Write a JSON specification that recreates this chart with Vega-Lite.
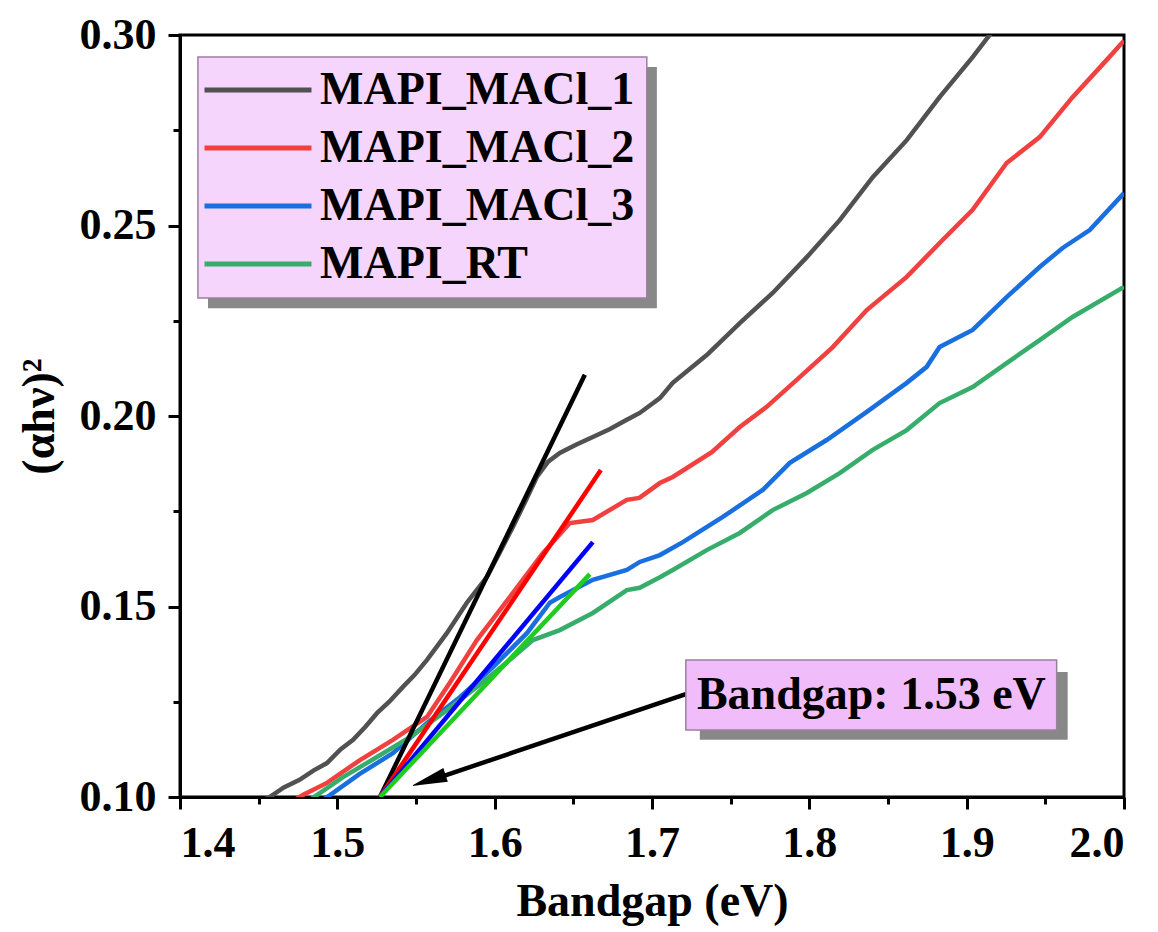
{
  "$schema": "https://vega.github.io/schema/vega-lite/v6.json",
  "width": 944,
  "height": 762,
  "autosize": {"type": "none"},
  "padding": {"left": 180, "top": 35, "right": 34, "bottom": 135},
  "background": "white",
  "config": {
    "view": {"stroke": "black", "strokeWidth": 3},
    "axis": {"grid": false, "domainColor": "black", "tickColor": "black", "labelColor": "black", "titleColor": "black", "labelFont": "Liberation Serif", "titleFont": "Liberation Serif", "labelFontWeight": "bold", "titleFontWeight": "bold"}
  },
  "datasets": {
    "curves": [
      {"series": "MAPI_MACl_1", "x": 1.450, "y": 0.0985},
      {"series": "MAPI_MACl_1", "x": 1.457, "y": 0.1000},
      {"series": "MAPI_MACl_1", "x": 1.466, "y": 0.1025},
      {"series": "MAPI_MACl_1", "x": 1.476, "y": 0.1045},
      {"series": "MAPI_MACl_1", "x": 1.485, "y": 0.1070},
      {"series": "MAPI_MACl_1", "x": 1.4934, "y": 0.1089},
      {"series": "MAPI_MACl_1", "x": 1.502, "y": 0.1125},
      {"series": "MAPI_MACl_1", "x": 1.510, "y": 0.1150},
      {"series": "MAPI_MACl_1", "x": 1.518, "y": 0.1185},
      {"series": "MAPI_MACl_1", "x": 1.5252, "y": 0.1220},
      {"series": "MAPI_MACl_1", "x": 1.533, "y": 0.1250},
      {"series": "MAPI_MACl_1", "x": 1.5417, "y": 0.1289},
      {"series": "MAPI_MACl_1", "x": 1.549, "y": 0.1320},
      {"series": "MAPI_MACl_1", "x": 1.557, "y": 0.1360},
      {"series": "MAPI_MACl_1", "x": 1.5696, "y": 0.1430},
      {"series": "MAPI_MACl_1", "x": 1.5823, "y": 0.1510},
      {"series": "MAPI_MACl_1", "x": 1.595, "y": 0.1577},
      {"series": "MAPI_MACl_1", "x": 1.603, "y": 0.1640},
      {"series": "MAPI_MACl_1", "x": 1.6116, "y": 0.1709},
      {"series": "MAPI_MACl_1", "x": 1.620, "y": 0.1780},
      {"series": "MAPI_MACl_1", "x": 1.6268, "y": 0.1840},
      {"series": "MAPI_MACl_1", "x": 1.634, "y": 0.1880},
      {"series": "MAPI_MACl_1", "x": 1.6414, "y": 0.1903},
      {"series": "MAPI_MACl_1", "x": 1.652, "y": 0.1925},
      {"series": "MAPI_MACl_1", "x": 1.6624, "y": 0.1945},
      {"series": "MAPI_MACl_1", "x": 1.673, "y": 0.1965},
      {"series": "MAPI_MACl_1", "x": 1.684, "y": 0.1990},
      {"series": "MAPI_MACl_1", "x": 1.6922, "y": 0.2008},
      {"series": "MAPI_MACl_1", "x": 1.705, "y": 0.2047},
      {"series": "MAPI_MACl_1", "x": 1.7132, "y": 0.2087},
      {"series": "MAPI_MACl_1", "x": 1.7348, "y": 0.2160},
      {"series": "MAPI_MACl_1", "x": 1.7558, "y": 0.2244},
      {"series": "MAPI_MACl_1", "x": 1.7767, "y": 0.2323},
      {"series": "MAPI_MACl_1", "x": 1.7984, "y": 0.2417},
      {"series": "MAPI_MACl_1", "x": 1.8193, "y": 0.2514},
      {"series": "MAPI_MACl_1", "x": 1.8403, "y": 0.2627},
      {"series": "MAPI_MACl_1", "x": 1.8619, "y": 0.2724},
      {"series": "MAPI_MACl_1", "x": 1.8828, "y": 0.2837},
      {"series": "MAPI_MACl_1", "x": 1.9038, "y": 0.2942},
      {"series": "MAPI_MACl_1", "x": 1.9146, "y": 0.3000},
      {"series": "MAPI_MACl_1", "x": 1.920, "y": 0.3030},
      {"series": "MAPI_MACl_2", "x": 1.470, "y": 0.0985},
      {"series": "MAPI_MACl_2", "x": 1.478, "y": 0.1005},
      {"series": "MAPI_MACl_2", "x": 1.4934, "y": 0.1037},
      {"series": "MAPI_MACl_2", "x": 1.5144, "y": 0.1097},
      {"series": "MAPI_MACl_2", "x": 1.5353, "y": 0.1150},
      {"series": "MAPI_MACl_2", "x": 1.557, "y": 0.1210},
      {"series": "MAPI_MACl_2", "x": 1.5715, "y": 0.1300},
      {"series": "MAPI_MACl_2", "x": 1.5887, "y": 0.1412},
      {"series": "MAPI_MACl_2", "x": 1.6097, "y": 0.1525},
      {"series": "MAPI_MACl_2", "x": 1.6306, "y": 0.1640},
      {"series": "MAPI_MACl_2", "x": 1.6478, "y": 0.1719},
      {"series": "MAPI_MACl_2", "x": 1.6624, "y": 0.1727},
      {"series": "MAPI_MACl_2", "x": 1.684, "y": 0.1780},
      {"series": "MAPI_MACl_2", "x": 1.692, "y": 0.1785},
      {"series": "MAPI_MACl_2", "x": 1.705, "y": 0.1824},
      {"series": "MAPI_MACl_2", "x": 1.7132, "y": 0.1840},
      {"series": "MAPI_MACl_2", "x": 1.738, "y": 0.1905},
      {"series": "MAPI_MACl_2", "x": 1.7558, "y": 0.1971},
      {"series": "MAPI_MACl_2", "x": 1.7729, "y": 0.2024},
      {"series": "MAPI_MACl_2", "x": 1.7939, "y": 0.2102},
      {"series": "MAPI_MACl_2", "x": 1.8149, "y": 0.2181},
      {"series": "MAPI_MACl_2", "x": 1.8365, "y": 0.2278},
      {"series": "MAPI_MACl_2", "x": 1.8619, "y": 0.2365},
      {"series": "MAPI_MACl_2", "x": 1.8828, "y": 0.2454},
      {"series": "MAPI_MACl_2", "x": 1.9038, "y": 0.2541},
      {"series": "MAPI_MACl_2", "x": 1.9254, "y": 0.2664},
      {"series": "MAPI_MACl_2", "x": 1.9464, "y": 0.2732},
      {"series": "MAPI_MACl_2", "x": 1.9673, "y": 0.2837},
      {"series": "MAPI_MACl_2", "x": 1.9889, "y": 0.2934},
      {"series": "MAPI_MACl_2", "x": 2.000, "y": 0.2985},
      {"series": "MAPI_MACl_3", "x": 1.488, "y": 0.0985},
      {"series": "MAPI_MACl_3", "x": 1.4953, "y": 0.1005},
      {"series": "MAPI_MACl_3", "x": 1.514, "y": 0.1060},
      {"series": "MAPI_MACl_3", "x": 1.5353, "y": 0.1115},
      {"series": "MAPI_MACl_3", "x": 1.557, "y": 0.1194},
      {"series": "MAPI_MACl_3", "x": 1.5779, "y": 0.1262},
      {"series": "MAPI_MACl_3", "x": 1.5989, "y": 0.1341},
      {"series": "MAPI_MACl_3", "x": 1.6205, "y": 0.1430},
      {"series": "MAPI_MACl_3", "x": 1.6351, "y": 0.1510},
      {"series": "MAPI_MACl_3", "x": 1.6414, "y": 0.1525},
      {"series": "MAPI_MACl_3", "x": 1.6624, "y": 0.1570},
      {"series": "MAPI_MACl_3", "x": 1.684, "y": 0.1596},
      {"series": "MAPI_MACl_3", "x": 1.6922, "y": 0.1617},
      {"series": "MAPI_MACl_3", "x": 1.705, "y": 0.1635},
      {"series": "MAPI_MACl_3", "x": 1.7196, "y": 0.1669},
      {"series": "MAPI_MACl_3", "x": 1.745, "y": 0.1735},
      {"series": "MAPI_MACl_3", "x": 1.7704, "y": 0.1806},
      {"series": "MAPI_MACl_3", "x": 1.7876, "y": 0.1877},
      {"series": "MAPI_MACl_3", "x": 1.811, "y": 0.1937},
      {"series": "MAPI_MACl_3", "x": 1.8365, "y": 0.2011},
      {"series": "MAPI_MACl_3", "x": 1.8619, "y": 0.2087},
      {"series": "MAPI_MACl_3", "x": 1.8746, "y": 0.2129},
      {"series": "MAPI_MACl_3", "x": 1.8828, "y": 0.2181},
      {"series": "MAPI_MACl_3", "x": 1.9038, "y": 0.2226},
      {"series": "MAPI_MACl_3", "x": 1.9254, "y": 0.2312},
      {"series": "MAPI_MACl_3", "x": 1.9464, "y": 0.2391},
      {"series": "MAPI_MACl_3", "x": 1.961, "y": 0.2441},
      {"series": "MAPI_MACl_3", "x": 1.9782, "y": 0.2488},
      {"series": "MAPI_MACl_3", "x": 2.000, "y": 0.2585},
      {"series": "MAPI_RT", "x": 1.480, "y": 0.0985},
      {"series": "MAPI_RT", "x": 1.487, "y": 0.1005},
      {"series": "MAPI_RT", "x": 1.5036, "y": 0.1052},
      {"series": "MAPI_RT", "x": 1.5252, "y": 0.1105},
      {"series": "MAPI_RT", "x": 1.5461, "y": 0.1157},
      {"series": "MAPI_RT", "x": 1.5671, "y": 0.1220},
      {"series": "MAPI_RT", "x": 1.5887, "y": 0.1289},
      {"series": "MAPI_RT", "x": 1.6097, "y": 0.1360},
      {"series": "MAPI_RT", "x": 1.6243, "y": 0.1412},
      {"series": "MAPI_RT", "x": 1.6414, "y": 0.1438},
      {"series": "MAPI_RT", "x": 1.6624, "y": 0.1483},
      {"series": "MAPI_RT", "x": 1.684, "y": 0.1543},
      {"series": "MAPI_RT", "x": 1.6922, "y": 0.1549},
      {"series": "MAPI_RT", "x": 1.705, "y": 0.1577},
      {"series": "MAPI_RT", "x": 1.7132, "y": 0.1596},
      {"series": "MAPI_RT", "x": 1.7348, "y": 0.1648},
      {"series": "MAPI_RT", "x": 1.7558, "y": 0.1693},
      {"series": "MAPI_RT", "x": 1.7767, "y": 0.1753},
      {"series": "MAPI_RT", "x": 1.7984, "y": 0.1798},
      {"series": "MAPI_RT", "x": 1.8193, "y": 0.1850},
      {"series": "MAPI_RT", "x": 1.8403, "y": 0.1911},
      {"series": "MAPI_RT", "x": 1.8619, "y": 0.1963},
      {"series": "MAPI_RT", "x": 1.8828, "y": 0.2034},
      {"series": "MAPI_RT", "x": 1.9038, "y": 0.2076},
      {"series": "MAPI_RT", "x": 1.9254, "y": 0.2139},
      {"series": "MAPI_RT", "x": 1.9464, "y": 0.2199},
      {"series": "MAPI_RT", "x": 1.9673, "y": 0.2260},
      {"series": "MAPI_RT", "x": 2.000, "y": 0.2339}
    ],
    "fits": [
      {"fit": "fit1", "x": 1.5271, "y": 0.1000},
      {"fit": "fit1", "x": 1.6573, "y": 0.2108},
      {"fit": "fit2", "x": 1.5271, "y": 0.1000},
      {"fit": "fit2", "x": 1.6675, "y": 0.1858},
      {"fit": "fit3", "x": 1.5271, "y": 0.1000},
      {"fit": "fit3", "x": 1.6624, "y": 0.1669},
      {"fit": "fit4", "x": 1.5271, "y": 0.1000},
      {"fit": "fit4", "x": 1.6605, "y": 0.1585}
    ],
    "one": [{}]
  },
  "resolve": {"scale": {"color": "independent"}, "axis": {"x": "independent", "y": "independent"}},
  "layer": [
    {
      "data": {"name": "one"},
      "mark": {"type": "rect", "color": "#888888"},
      "encoding": {
        "x": {"datum": 1.4178, "type": "quantitative", "scale": {"domain": [1.4, 2.0], "nice": false, "zero": false},
          "axis": {"values": [1.4, 1.5, 1.6, 1.7, 1.8, 1.9, 2.0], "format": ".1f", "labelFontSize": 44, "tickSize": 12, "tickWidth": 3, "domainWidth": 3, "labelPadding": 12, "title": "Bandgap (eV)", "titleFontSize": 46, "titlePadding": 14, "orient": "bottom"}},
        "x2": {"datum": 1.7031},
        "y": {"datum": 0.2916, "type": "quantitative", "scale": {"domain": [0.1, 0.3], "nice": false, "zero": false},
          "axis": {"values": [0.1, 0.15, 0.2, 0.25, 0.3], "format": ".2f", "labelFontSize": 44, "tickSize": 12, "tickWidth": 3, "domainWidth": 3, "labelPadding": 12, "title": "(αhν)²", "titleFontSize": 46, "titlePadding": 16, "orient": "left"}},
        "y2": {"datum": 0.2283}
      }
    },
    {
      "data": {"name": "one"},
      "mark": {"type": "rect", "fill": "#f5d5fc", "stroke": "#9b7f9f", "strokeWidth": 1.5},
      "encoding": {
        "x": {"datum": 1.4114, "type": "quantitative", "axis": null},
        "x2": {"datum": 1.6967},
        "y": {"datum": 0.2942, "type": "quantitative", "axis": null},
        "y2": {"datum": 0.2310}
      }
    },
    {
      "data": {"name": "curves"},
      "mark": {"type": "line", "strokeWidth": 4.5, "clip": true},
      "encoding": {
        "x": {"field": "x", "type": "quantitative", "axis": {"values": [1.45, 1.55, 1.65, 1.75, 1.85, 1.95], "labels": false, "domain": false, "tickSize": 7, "tickWidth": 3, "title": null, "orient": "bottom"}},
        "y": {"field": "y", "type": "quantitative", "axis": {"values": [0.125, 0.175, 0.225, 0.275], "labels": false, "domain": false, "tickSize": 7, "tickWidth": 3, "title": null, "orient": "left"}},
        "color": {"field": "series", "type": "nominal",
          "scale": {"domain": ["MAPI_MACl_1", "MAPI_MACl_2", "MAPI_MACl_3", "MAPI_RT"], "range": ["#515151", "#F14040", "#1A6FDF", "#37AD6B"]},
          "legend": {"orient": "none", "legendX": 48, "legendY": 25, "title": null, "padding": 7, "symbolType": "M-3,0H3", "symbolSize": 1272, "symbolStrokeWidth": 5, "labelFont": "Liberation Serif", "labelFontWeight": "bold", "labelFontSize": 46, "labelColor": "black", "labelOffset": 39, "labelLimit": 0, "rowPadding": 12}}
      }
    },
    {
      "data": {"name": "fits"},
      "mark": {"type": "line", "strokeWidth": 4.5, "clip": true},
      "encoding": {
        "x": {"field": "x", "type": "quantitative", "axis": null},
        "y": {"field": "y", "type": "quantitative", "axis": null},
        "color": {"field": "fit", "type": "nominal", "scale": {"domain": ["fit1", "fit2", "fit3", "fit4"], "range": ["#000000", "#ff0000", "#0000ff", "#1fcc1f"]}, "legend": null}
      }
    },
    {
      "data": {"name": "one"},
      "mark": {"type": "rule", "color": "black", "strokeWidth": 4.5},
      "encoding": {
        "x": {"datum": 1.7215, "type": "quantitative", "axis": null},
        "y": {"datum": 0.1270, "type": "quantitative", "axis": null},
        "x2": {"datum": 1.5588},
        "y2": {"datum": 0.1043}
      }
    },
    {
      "data": {"name": "one"},
      "mark": {"type": "point", "shape": "M0,-1L0.4,1L-0.4,1Z", "filled": true, "color": "black", "opacity": 1, "size": 1300, "angle": 252},
      "encoding": {
        "x": {"datum": 1.5579, "type": "quantitative", "axis": null},
        "y": {"datum": 0.10433, "type": "quantitative", "axis": null}
      }
    },
    {
      "data": {"name": "one"},
      "mark": {"type": "rect", "color": "#888888"},
      "encoding": {
        "x": {"datum": 1.7304, "type": "quantitative", "axis": null},
        "x2": {"datum": 1.9642},
        "y": {"datum": 0.1328, "type": "quantitative", "axis": null},
        "y2": {"datum": 0.1150}
      }
    },
    {
      "data": {"name": "one"},
      "mark": {"type": "rect", "fill": "#f0bdfa", "stroke": "#9b7f9f", "strokeWidth": 1.5},
      "encoding": {
        "x": {"datum": 1.7215, "type": "quantitative", "axis": null},
        "x2": {"datum": 1.9572},
        "y": {"datum": 0.13596, "type": "quantitative", "axis": null},
        "y2": {"datum": 0.11759}
      }
    },
    {
      "data": {"name": "one"},
      "mark": {"type": "text", "text": "Bandgap: 1.53 eV", "font": "Liberation Serif", "fontWeight": "bold", "fontSize": 46, "color": "black", "align": "center", "baseline": "middle"},
      "encoding": {
        "x": {"datum": 1.8394, "type": "quantitative", "axis": null},
        "y": {"datum": 0.1268, "type": "quantitative", "axis": null}
      }
    }
  ]
}
